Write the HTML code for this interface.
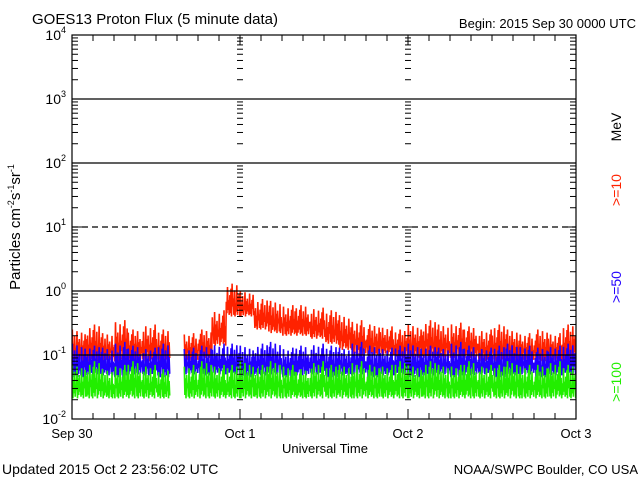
<!DOCTYPE html>
<html><head><meta charset="utf-8"><style>
body{margin:0;background:#fff;width:640px;height:480px;overflow:hidden}
svg text{font-family:"Liberation Sans",sans-serif;}
</style></head><body>
<svg id="chart" width="640" height="480" viewBox="0 0 640 480" xmlns="http://www.w3.org/2000/svg">
<text x="32" y="24" font-size="15" fill="#000">GOES13 Proton Flux (5 minute data)</text>
<text x="636" y="28" font-size="13" text-anchor="end" fill="#000">Begin: 2015 Sep 30 0000 UTC</text>
<text transform="translate(20,227) rotate(-90)" font-size="15" text-anchor="middle" fill="#000">Particles cm<tspan font-size="9" dy="-6">-2</tspan><tspan dy="6">s</tspan><tspan font-size="9" dy="-6">-1</tspan><tspan dy="6">sr</tspan><tspan font-size="9" dy="-6">-1</tspan></text>
<text transform="translate(621,127) rotate(-90)" font-size="14" text-anchor="middle" fill="#000">MeV</text>
<text transform="translate(621,190) rotate(-90)" font-size="14" text-anchor="middle" fill="#ff2200">&gt;=10</text>
<text transform="translate(621,287) rotate(-90)" font-size="14" text-anchor="middle" fill="#2200ff">&gt;=50</text>
<text transform="translate(621,382) rotate(-90)" font-size="14" text-anchor="middle" fill="#22ee00">&gt;=100</text>
<text x="325" y="453" font-size="13" text-anchor="middle" fill="#000">Universal Time</text>
<text x="2" y="474" font-size="14" fill="#000">Updated 2015 Oct  2 23:56:02 UTC</text>
<text x="638" y="474" font-size="13" text-anchor="end" fill="#000">NOAA/SWPC Boulder, CO USA</text>
<g id="plot"></g>
</svg>
<script>
const dayLabels=["Sep 30","Oct 1","Oct 2","Oct 3"];
const decades=[-2,-1,0,1,2,3,4];
const decadeLabels=["-2","-1","0","1","2","3","4"];
// 2-hour bins, 36 bins from Sep 30 00 UTC; null = data gap
const redHi=[0.25,0.3,0.22,0.35,0.25,0.3,0.25,null,0.22,0.25,0.5,1.3,1.0,0.75,0.7,0.6,0.6,0.55,0.5,0.42,0.35,0.3,0.28,0.25,0.3,0.35,0.3,0.32,0.28,0.25,0.3,0.25,0.22,0.25,0.22,0.3];
const redLo=[0.08,0.08,0.08,0.08,0.08,0.08,0.08,null,0.08,0.09,0.14,0.4,0.4,0.25,0.22,0.2,0.2,0.18,0.15,0.12,0.1,0.1,0.1,0.09,0.09,0.09,0.09,0.09,0.09,0.08,0.08,0.08,0.08,0.08,0.08,0.08];
const blueHi=[0.15,0.14,0.13,0.16,0.14,0.13,0.15,null,0.13,0.14,0.15,0.15,0.14,0.15,0.16,0.13,0.14,0.15,0.14,0.13,0.16,0.14,0.13,0.14,0.15,0.14,0.13,0.16,0.14,0.13,0.14,0.15,0.14,0.13,0.14,0.15];
const blueLo=[0.045,0.05,0.048,0.045,0.05,0.048,0.045,null,0.05,0.048,0.05,0.05,0.045,0.048,0.05,0.045,0.048,0.05,0.045,0.048,0.05,0.045,0.048,0.05,0.045,0.048,0.05,0.045,0.048,0.05,0.045,0.048,0.05,0.045,0.048,0.05];
const greenHi=[0.07,0.08,0.06,0.07,0.08,0.07,0.06,null,0.07,0.08,0.07,0.07,0.08,0.07,0.08,0.07,0.06,0.08,0.07,0.07,0.08,0.07,0.07,0.08,0.07,0.08,0.07,0.07,0.08,0.07,0.07,0.08,0.07,0.07,0.08,0.07];
const greenLo=[0.021,0.021,0.021,0.021,0.021,0.021,0.021,null,0.021,0.021,0.021,0.021,0.021,0.021,0.021,0.021,0.021,0.021,0.021,0.021,0.021,0.021,0.021,0.021,0.021,0.021,0.021,0.021,0.021,0.021,0.021,0.021,0.021,0.021,0.021,0.021];

const NS="http://www.w3.org/2000/svg";
const L=72,R=576,T=35,B=419;
const x=h=>L+(R-L)*h/72;
const y=v=>291-64*Math.log10(v);
const plot=document.getElementById('plot');
function mk(tag,attrs,parent){const e=document.createElementNS(NS,tag);for(const k in attrs)e.setAttribute(k,attrs[k]);(parent||plot).appendChild(e);return e;}
// fixed jitter pattern (fractions of the bin's range) for the 5-minute texture
const hiPat=[1,0.55,0.8,0.4,0.95,0.6,0.7,0.45,0.9,0.5,0.65,0.85];
const loPat=[0,0.15,0.05,0.25,0,0.1,0.2,0.05,0.1,0,0.3,0.05];

function series(hi,lo,color,name){
  let segs=[],cur=[];
  for(let i=0;i<hi.length;i++){
    if(hi[i]==null){if(cur.length)segs.push(cur);cur=[];continue;}
    const lh=Math.log10(hi[i]),ll=Math.log10(lo[i]);
    for(let k=0;k<24;k++){
      const h=i*2+(k+0.5)/12;
      const j=(k>>1)%12;
      const f=(k%2===0)?hiPat[(j+i*5)%12]:loPat[(j+i*7)%12];
      cur.push(x(h).toFixed(1)+","+(291-64*(ll+(lh-ll)*f)).toFixed(1));
    }
  }
  if(cur.length)segs.push(cur);
  segs.forEach(s=>{
    const p=mk('polyline',{points:s.join(' '),fill:'none',stroke:color,'stroke-width':1.6,'stroke-linejoin':'bevel'});
    
    
  });
}
series(redHi,redLo,'#ff2200','series-10mev');
series(blueHi,blueLo,'#2200ff','series-50mev');
series(greenHi,greenLo,'#22ee00','series-100mev');
decades.forEach((d,i)=>{
  const yy=291-64*d;
  if(d>-2&&d<4){
    const g=mk('line',{x1:L,x2:R,y1:yy,y2:yy,stroke:'#000','stroke-width':1.2});
    if(d===1)g.setAttribute('stroke-dasharray','6,4');
    
    
  }
  const t=mk('text',{x:L-6,y:yy+5,'font-size':14,'text-anchor':'end',fill:'#000'});
  
  
  t.textContent='10';
  const s=mk('tspan',{'font-size':9,dy:-7},t);s.textContent=decadeLabels[i];
  if(d<4){for(let m=2;m<10;m++){const ym=yy-64*Math.log10(m);
    [[L,L+6],[R-6,R],[x(24)-3,x(24)+3],[x(48)-3,x(48)+3]].forEach(([a,b])=>{
      const tk=mk('line',{x1:a,x2:b,y1:ym,y2:ym,stroke:'#000','stroke-width':1});
      
      
    });}}
  [[L,L+10],[R-10,R],[x(24)-5,x(24)+5],[x(48)-5,x(48)+5]].forEach(([a,b])=>{
    const tk=mk('line',{x1:a,x2:b,y1:yy,y2:yy,stroke:'#000','stroke-width':1});
    
    
  });
});
const fr=mk('rect',{x:L,y:T,width:R-L,height:B-T,fill:'none',stroke:'#000','stroke-width':1.2});


for(let h=3;h<72;h+=3){
  const len=(h%24===0)?10:6;
  [[T,T+len],[B-len,B]].forEach(([a,b])=>{
    const tk=mk('line',{x1:x(h),x2:x(h),y1:a,y2:b,stroke:'#000','stroke-width':1});
    
    
  });
}
dayLabels.forEach((lab,i)=>{
  const t=mk('text',{x:x(i*24),y:438,'font-size':13,'text-anchor':'middle',fill:'#000'});
  
  
  t.textContent=lab;
});
</script>
</body></html>
